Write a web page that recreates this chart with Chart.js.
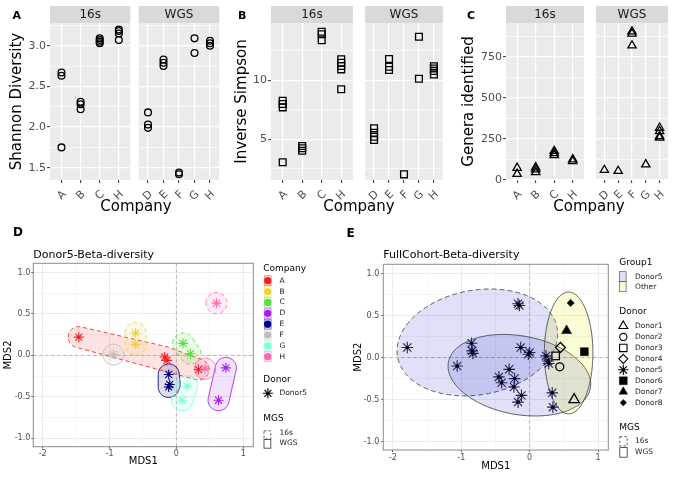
<!DOCTYPE html>
<html><head><meta charset="utf-8">
<script src="https://cdn.jsdelivr.net/npm/chart.js@4.4.1/dist/chart.umd.min.js"></script>
<style>
html,body{margin:0;padding:0;background:#fff;}
body{position:relative;width:680px;height:479px;overflow:hidden;font-family:'DejaVu Sans',sans-serif;}
canvas{position:absolute;}
.t{position:absolute;white-space:nowrap;transform:translate(-50%,-50%);color:#000;font-size:15px;line-height:1;}
.p{position:absolute;white-space:nowrap;font-weight:bold;transform:translate(0,-50%);color:#000;line-height:1;}
</style></head><body>
<canvas id="a1" width="135" height="220" style="left:0px;top:0px"></canvas>
<canvas id="a2" width="90" height="220" style="left:134px;top:0px"></canvas>
<canvas id="b1" width="134" height="220" style="left:225px;top:0px"></canvas>
<canvas id="b2" width="90" height="220" style="left:359px;top:0px"></canvas>
<canvas id="c1" width="140" height="220" style="left:450px;top:0px"></canvas>
<canvas id="c2" width="84" height="220" style="left:590px;top:0px"></canvas>
<canvas id="d" width="340" height="259" style="left:0px;top:220px"></canvas>
<canvas id="e" width="340" height="259" style="left:340px;top:220px"></canvas>
<div class="p" style="left:12.5px;top:15px;font-size:11px">A</div>
<div class="p" style="left:238px;top:15px;font-size:11px">B</div>
<div class="p" style="left:467px;top:15px;font-size:11px">C</div>
<div class="p" style="left:13px;top:232px;font-size:12px">D</div>
<div class="p" style="left:346.5px;top:233px;font-size:12px">E</div>
<div class="t" style="left:136px;top:206px">Company</div>
<div class="t" style="left:359px;top:206px">Company</div>
<div class="t" style="left:589px;top:206px">Company</div>
<script>
// ================= DATA =================
const cats16s = ['A','B','C','H'];
const catsWgs = ['D','E','F','G','H'];

// Panel A: Shannon diversity
const shannon16sCat = ['A','A','A','B','B','B','C','C','C','C','H','H','H','H'];
const shannon16sVal = [2.67,2.63,1.75,2.31,2.28,2.22,3.09,3.07,3.05,3.03,3.20,3.18,3.15,3.07];
const shannonWgsCat = ['D','D','D','E','E','E','F','F','G','G','H','H','H'];
const shannonWgsVal = [2.18,2.03,1.99,2.83,2.79,2.75,1.44,1.42,3.09,2.91,3.06,3.03,3.00];
const shannonTicks = [1.5,2.0,2.5,3.0];
const shannonMinor = [1.25,1.75,2.25,2.75,3.25];
const shannonLimits = [1.349,3.279];

// Panel B: Inverse Simpson
const invSimp16sCat = ['A','A','A','A','B','B','B','C','C','C','H','H','H','H','H'];
const invSimp16sVal = [8.27,7.99,7.71,3.05,4.43,4.24,4.03,14.12,13.9,13.4,11.78,11.49,11.21,10.93,9.24];
const invSimpWgsCat = ['D','D','D','D','E','E','E','F','G','G','H','H','H','H'];
const invSimpWgsVal = [5.93,5.56,5.22,4.94,11.8,11.15,10.87,2.03,13.7,10.14,11.2,11.0,10.8,10.5];
const invSimpTicks = [5,10];
const invSimpMinor = [2.5,7.5,12.5];
const invSimpLimits = [1.55,14.86];

// Panel C: Genera identified
const genera16sCat = ['A','A','B','B','B','C','C','C','H','H'];
const genera16sVal = [72,35,75,62,45,175,162,150,124,113];
const generaWgsCat = ['D','E','F','F','F','G','H','H','H','H'];
const generaWgsVal = [59,53,906,893,820,93,317,296,266,256];
const generaTicks = [0,250,500,750];
const generaMinor = [125,375,625,875];
const generaLimits = [-2,958];

// Panel D: Donor5 beta diversity (MDS)
const companyNames = ['A','B','C','D','E','F','G','H'];
const companyColors = ['#F81E1E','#EAD43C','#52E33C','#A020F0','#000080','#BEBEBE','#7FFFD4','#FF69B4'];
const betaDCompany = ['A','A','A','A','B','B','C','C','D','D','E','E','E','F','G','G','H','H'];
const betaDMgs = ['16s','16s','16s','16s','16s','16s','16s','16s','WGS','WGS','WGS','WGS','WGS','WGS','WGS','WGS','16s','WGS'];
const betaDX = [-1.46,-0.175,-0.14,0.33,-0.61,-0.61,0.10,0.21,0.74,0.63,-0.115,-0.10,-0.115,-0.94,0.16,0.085,0.60,0.43];
const betaDY = [0.22,-0.02,-0.06,-0.17,0.27,0.13,0.145,0.02,-0.15,-0.54,-0.23,-0.35,-0.38,0.01,-0.37,-0.54,0.63,-0.16];

// Panel E: full cohort beta diversity (MDS)
const donorNames = ['Donor1','Donor2','Donor3','Donor4','Donor5','Donor6','Donor7','Donor8'];
const betaEDonor = ['Donor5','Donor5','Donor5','Donor5','Donor5','Donor5','Donor5','Donor5','Donor5','Donor5','Donor5','Donor5','Donor5','Donor5','Donor5','Donor5','Donor5','Donor5','Donor5','Donor5','Donor5','Donor5',
                    'Donor1','Donor2','Donor3','Donor4','Donor6','Donor7','Donor8'];
const betaEX = [-1.79,-0.17,-0.15,-0.85,-0.84,-0.83,-1.06,-0.13,0.00,-0.02,-0.30,-0.45,-0.41,-0.22,-0.23,-0.12,-0.17,0.24,0.27,0.28,0.33,0.34,
                0.65,0.44,0.38,0.45,0.80,0.54,0.60];
const betaEY = [0.12,0.64,0.62,0.17,0.08,0.05,-0.10,0.12,0.06,0.04,-0.14,-0.23,-0.30,-0.25,-0.35,-0.45,-0.53,0.02,-0.04,-0.07,-0.42,-0.59,
                -0.50,-0.11,0.02,0.12,0.07,0.32,0.65];
// stat ellipses (data units): centre, semi-axes, rotation
const ellGroup = ['Donor5','Donor5','Other'];
const ellMgs = ['16s','WGS','WGS'];
const ellCx = [-0.765,-0.15,0.57];
const ellCy = [0.18,-0.21,0.055];
const ellA = [1.18,1.05,0.355];
const ellB = [0.625,0.47,0.725];
const ellAngle = [6.8,-7.4,0];

const mdsXTicks = [-2,-1,0,1];
const mdsXMinor = [-1.5,-0.5,0.5];
const mdsYTicks = [-1.0,-0.5,0.0,0.5,1.0];
const mdsYMinor = [-0.75,-0.25,0.25,0.75];
const mdsXLimits = [-2.14,1.15];
const mdsYLimits = [-1.10,1.11];

// ================= STYLE / HELPERS =================
const FF = "'DejaVu Sans', sans-serif";
Chart.defaults.font.family = FF;
const groupFill = {Donor5:'rgba(0,0,200,0.12)', Other:'rgba(230,230,0,0.16)'};

function hexA(hex,a){const n=parseInt(hex.slice(1),16);return `rgba(${n>>16&255},${n>>8&255},${n&255},${a})`;}
function buildTicks(major,minor,lim){
  return major.map(v=>({value:v,minor:false})).concat(minor.map(v=>({value:v,minor:true})))
    .filter(t=>t.value>=lim[0]-1e-9&&t.value<=lim[1]+1e-9).sort((a,b)=>a.value-b.value);
}
const gw = (maj,min)=>c=>(c.tick&&c.tick.minor)?min:maj;
const tc = col=>c=>(c.tick&&c.tick.minor)?'rgba(0,0,0,0)':col;

const panelPlugin = {
  id:'panelDeco',
  beforeDraw(chart,args,o){
    const {ctx,chartArea:a}=chart;
    ctx.save();
    ctx.fillStyle='#EBEBEB';ctx.fillRect(a.left,a.top,a.right-a.left,a.bottom-a.top);
    ctx.fillStyle='#D9D9D9';ctx.fillRect(a.left,6,a.right-a.left,a.top-6);
    ctx.fillStyle='#1A1A1A';ctx.font="12px "+FF;ctx.textAlign='center';ctx.textBaseline='middle';
    ctx.fillText(o.strip,(a.left+a.right)/2,(6+a.top)/2+0.5);
    ctx.restore();
  }
};

function facet(id,cats,catArr,valArr,cfg){
  const pts=catArr.map((c,i)=>({x:cats.indexOf(c)+1,y:valArr[i]}));
  const yt=buildTicks(cfg.major,cfg.minor,cfg.lim);
  return new Chart(document.getElementById(id),{
    type:'scatter',
    data:{datasets:[{data:pts,pointStyle:cfg.shape,pointRadius:cfg.r,pointHoverRadius:cfg.r,borderColor:'#000',backgroundColor:'rgba(0,0,0,0)',borderWidth:1.3}]},
    plugins:[panelPlugin],
    options:{
      responsive:false,animation:false,events:[],
      layout:{padding:{top:23,left:cfg.padL,right:cfg.padR,bottom:0}},
      plugins:{legend:{display:false},tooltip:{enabled:false},panelDeco:{strip:cfg.strip}},
      scales:{
        x:{type:'linear',min:0.4,max:cats.length+0.6,
          afterBuildTicks:s=>{s.ticks=cats.map((c,i)=>({value:i+1}));},
          afterFit:s=>{s.height=40;s.paddingLeft=0;s.paddingRight=0;},
          ticks:{autoSkip:false,minRotation:45,maxRotation:45,padding:5,labelOffset:3,font:{size:11},color:'#4D4D4D',
                 callback:v=>cats[Math.round(v)-1]},
          grid:{color:'#FFFFFF',lineWidth:1.2,tickColor:'#333333',tickLength:3,tickWidth:1},
          border:{display:false}},
        y:{type:'linear',min:cfg.lim[0],max:cfg.lim[1],
          afterBuildTicks:s=>{s.ticks=yt.map(t=>Object.assign({},t));},
          afterFit:s=>{s.width=cfg.yW;s.paddingTop=0;s.paddingBottom=0;},
          ticks:{display:cfg.showY,padding:1,font:{size:11},color:'#4D4D4D',
                 callback:(v,i,t)=>t[i].minor?'':cfg.fmt(v)},
          grid:{color:'#FFFFFF',lineWidth:gw(1.2,0.6),tickColor:tc('#333333'),tickLength:3,tickWidth:1,drawTicks:cfg.showY},
          border:{display:false},
          title:{display:cfg.showY,text:cfg.title||'',color:'#000',font:{size:15},padding:{top:cfg.tPad||0,bottom:0}}}
      }
    }
  });
}

// ---- panel A
facet('a1',cats16s,shannon16sCat,shannon16sVal,{strip:'16s',shape:'circle',r:3.4,major:shannonTicks,minor:shannonMinor,lim:shannonLimits,
  padL:0,padR:2,yW:50,showY:true,fmt:v=>v.toFixed(1),title:'Shannon Diversity',tPad:8});
facet('a2',catsWgs,shannonWgsCat,shannonWgsVal,{strip:'WGS',shape:'circle',r:3.4,major:shannonTicks,minor:shannonMinor,lim:shannonLimits,
  padL:4,padR:2,yW:0,showY:false,fmt:v=>''});
// ---- panel B
facet('b1',cats16s,invSimp16sCat,invSimp16sVal,{strip:'16s',shape:'rect',r:4.8,major:invSimpTicks,minor:invSimpMinor,lim:invSimpLimits,
  padL:0,padR:2,yW:46,showY:true,fmt:v=>String(v),title:'Inverse Simpson',tPad:8.5});
facet('b2',catsWgs,invSimpWgsCat,invSimpWgsVal,{strip:'WGS',shape:'rect',r:4.8,major:invSimpTicks,minor:invSimpMinor,lim:invSimpLimits,
  padL:3,padR:2,yW:0,showY:false,fmt:v=>''});
// ---- panel C
facet('c1',cats16s,genera16sCat,genera16sVal,{strip:'16s',shape:'triangle',r:4.8,major:generaTicks,minor:generaMinor,lim:generaLimits,
  padL:0,padR:2,yW:56,showY:true,fmt:v=>String(v),title:'Genera identified',tPad:9.8});
facet('c2',catsWgs,generaWgsCat,generaWgsVal,{strip:'WGS',shape:'triangle',r:4.8,major:generaTicks,minor:generaMinor,lim:generaLimits,
  padL:2,padR:2,yW:0,showY:false,fmt:v=>''});

// ================= MDS PANELS =================
function convexHull(P){
  P=P.slice().sort((a,b)=>a[0]-b[0]||a[1]-b[1]);
  const cr=(o,a,b)=>(a[0]-o[0])*(b[1]-o[1])-(a[1]-o[1])*(b[0]-o[0]);
  const lo=[];for(const p of P){while(lo.length>=2&&cr(lo[lo.length-2],lo[lo.length-1],p)<=0)lo.pop();lo.push(p);}
  const up=[];for(let i=P.length-1;i>=0;i--){const p=P[i];while(up.length>=2&&cr(up[up.length-2],up[up.length-1],p)<=0)up.pop();up.push(p);}
  lo.pop();up.pop();return lo.concat(up);
}
function roundedHull(pts,r){
  const ring=[];
  pts.forEach(p=>{for(let k=0;k<48;k++){const a=k*Math.PI*2/48;ring.push([p[0]+r*Math.cos(a),p[1]+r*Math.sin(a)]);}});
  return convexHull(ring);
}
function drawShape(ctx,s,x,y,r,fill,stroke,lw){
  ctx.beginPath();
  if(s==='circle'){ctx.arc(x,y,r,0,Math.PI*2);}
  else if(s==='rect'){ctx.rect(x-r,y-r,2*r,2*r);}
  else if(s==='rectRot'){ctx.moveTo(x,y-r);ctx.lineTo(x+r,y);ctx.lineTo(x,y+r);ctx.lineTo(x-r,y);ctx.closePath();}
  else if(s==='triangle'){ctx.moveTo(x,y-r);ctx.lineTo(x+r*0.866,y+r*0.5);ctx.lineTo(x-r*0.866,y+r*0.5);ctx.closePath();}
  else if(s==='star'){for(let k=0;k<4;k++){const a=k*Math.PI/4;ctx.moveTo(x-r*Math.cos(a),y-r*Math.sin(a));ctx.lineTo(x+r*Math.cos(a),y+r*Math.sin(a));}}
  ctx.setLineDash([]);
  if(fill&&s!=='star'){ctx.fillStyle=fill;ctx.fill();}
  if(stroke){ctx.strokeStyle=stroke;ctx.lineWidth=lw;ctx.stroke();}
}
function txt(ctx,s,x,y,size,col){ctx.font=size+'px '+FF;ctx.fillStyle=col||'#000';ctx.textAlign='left';ctx.textBaseline='middle';ctx.fillText(s,x,y);}

const mdsDeco = {
  id:'mdsDeco',
  beforeDatasetsDraw(chart){
    const {ctx,chartArea:a,scales:{x,y}}=chart;
    ctx.save();ctx.strokeStyle='#A6A6A6';ctx.lineWidth=0.8;ctx.setLineDash([3,3]);
    const x0=x.getPixelForValue(0),y0=y.getPixelForValue(0);
    ctx.beginPath();ctx.moveTo(x0,a.top);ctx.lineTo(x0,a.bottom);ctx.moveTo(a.left,y0);ctx.lineTo(a.right,y0);ctx.stroke();
    ctx.restore();
  },
  afterDraw(chart,args,o){
    const {ctx,chartArea:a}=chart;
    ctx.save();
    ctx.strokeStyle='#8C8C8C';ctx.lineWidth=1;ctx.setLineDash([]);
    ctx.strokeRect(a.left,a.top,a.right-a.left,a.bottom-a.top);
    txt(ctx,o.title,a.left,35,11,'#000');
    o.legend(ctx);
    ctx.restore();
  }
};

function mdsScales(c){
  const xt=buildTicks(mdsXTicks,mdsXMinor,mdsXLimits), yt=buildTicks(mdsYTicks,mdsYMinor,mdsYLimits);
  return {
    x:{type:'linear',min:mdsXLimits[0],max:mdsXLimits[1],
      afterBuildTicks:s=>{s.ticks=xt.map(t=>Object.assign({},t));},
      afterFit:s=>{s.height=c.xH;s.paddingLeft=0;s.paddingRight=0;},
      ticks:{autoSkip:false,maxRotation:0,padding:c.xTP,font:{size:8},color:'#4D4D4D',callback:(v,i,t)=>t[i].minor?'':String(v)},
      grid:{color:'#EBEBEB',lineWidth:gw(1,0.5),tickColor:tc('#333333'),tickLength:2,tickWidth:0.8},
      border:{display:false},
      title:{display:true,text:'MDS1',color:'#000',font:{size:10},padding:{top:0,bottom:c.xTitlePad}}},
    y:{type:'linear',min:mdsYLimits[0],max:mdsYLimits[1],
      afterBuildTicks:s=>{s.ticks=yt.map(t=>Object.assign({},t));},
      afterFit:s=>{s.width=c.yW;s.paddingTop=0;s.paddingBottom=0;},
      ticks:{padding:c.yTP,font:{size:8},color:'#4D4D4D',callback:(v,i,t)=>t[i].minor?'':v.toFixed(1)},
      grid:{color:'#EBEBEB',lineWidth:gw(1,0.5),tickColor:tc('#333333'),tickLength:2,tickWidth:0.8},
      border:{display:false},
      title:{display:true,text:'MDS2',color:'#000',font:{size:10},padding:{top:c.yTitlePad,bottom:0}}}
  };
}

// ---- panel D
const hullPlugin = {
  id:'hulls',
  beforeDatasetsDraw(chart){
    const {ctx,scales:{x,y}}=chart;
    ctx.save();
    companyNames.forEach((c,ci)=>{['16s','WGS'].forEach(m=>{
      const pts=[];
      betaDCompany.forEach((cc,i)=>{if(cc===c&&betaDMgs[i]===m)pts.push([x.getPixelForValue(betaDX[i]),y.getPixelForValue(betaDY[i])]);});
      if(!pts.length)return;
      const h=roundedHull(pts,10.5);
      ctx.beginPath();h.forEach((q,k)=>k?ctx.lineTo(q[0],q[1]):ctx.moveTo(q[0],q[1]));ctx.closePath();
      ctx.fillStyle=hexA(companyColors[ci],0.13);ctx.fill();
      ctx.setLineDash(m==='16s'?[4,3]:[]);ctx.strokeStyle=hexA(companyColors[ci],0.85);ctx.lineWidth=1;ctx.stroke();
    });});
    ctx.restore();
  }
};
const colorOf = c=>companyColors[companyNames.indexOf(c)];
const dPts = betaDX.map((v,i)=>({x:v,y:betaDY[i]}));
new Chart(document.getElementById('d'),{
  type:'scatter',
  data:{datasets:[
    {data:dPts,pointStyle:'circle',pointRadius:1.3,borderWidth:0,backgroundColor:betaDCompany.map(colorOf),order:0},
    {data:dPts,pointStyle:'star',pointRadius:5,borderWidth:1.1,borderColor:betaDCompany.map(colorOf),backgroundColor:'rgba(0,0,0,0)',order:1}
  ]},
  plugins:[mdsDeco,hullPlugin],
  options:{
    responsive:false,animation:false,events:[],
    layout:{padding:{top:43.3,left:0,right:86.7,bottom:0}},
    plugins:{legend:{display:false},tooltip:{enabled:false},
      mdsDeco:{title:'Donor5-Beta-diversity',legend:ctx=>{
        txt(ctx,'Company',263.3,48.3,9);
        companyNames.forEach((c,i)=>{
          const yy=60.7+10.86*i;
          ctx.fillStyle=hexA(companyColors[i],0.15);ctx.fillRect(264.3,yy-5,6.8,10);
          ctx.strokeStyle=hexA(companyColors[i],0.6);ctx.lineWidth=0.7;ctx.setLineDash([]);ctx.strokeRect(264.3,yy-5,6.8,10);
          drawShape(ctx,'circle',267.7,yy,3.6,companyColors[i],null,0);
          txt(ctx,c,279.5,yy,7.5,'#1A1A1A');
        });
        txt(ctx,'Donor',263.3,160,9);
        drawShape(ctx,'star',267.9,173.3,5,null,'#000',1.1);drawShape(ctx,'circle',267.9,173.3,1.4,'#000',null,0);
        txt(ctx,'Donor5',279.5,173.3,7.5,'#1A1A1A');
        txt(ctx,'MGS',263.3,198.3,9);
        ctx.strokeStyle='#333';ctx.lineWidth=0.8;ctx.setLineDash([2.5,2]);ctx.strokeRect(264,210.8,6.8,8.2);
        ctx.setLineDash([]);ctx.strokeRect(264,219.4,6.8,8.8);
        txt(ctx,'16s',279.5,213.5,7.5,'#1A1A1A');txt(ctx,'WGS',279.5,223.5,7.5,'#1A1A1A');
      }}},
    scales:mdsScales({xH:32.3,xTP:0,xTitlePad:11.3,yW:33.3,yTP:1,yTitlePad:2})
  }
});

// ---- panel E
const ellipsePlugin = {
  id:'ellipses',
  beforeDatasetsDraw(chart){
    const {ctx,chartArea:a,scales:{x,y}}=chart;
    ctx.save();ctx.beginPath();ctx.rect(a.left,a.top,a.right-a.left,a.bottom-a.top);ctx.clip();
    for(let i=0;i<ellCx.length;i++){
      const th=ellAngle[i]*Math.PI/180;
      ctx.beginPath();
      for(let k=0;k<=160;k++){
        const t=k/160*2*Math.PI,dx=ellA[i]*Math.cos(t),dy=ellB[i]*Math.sin(t);
        const X=x.getPixelForValue(ellCx[i]+dx*Math.cos(th)-dy*Math.sin(th));
        const Y=y.getPixelForValue(ellCy[i]+dx*Math.sin(th)+dy*Math.cos(th));
        k?ctx.lineTo(X,Y):ctx.moveTo(X,Y);
      }
      ctx.closePath();ctx.fillStyle=groupFill[ellGroup[i]];ctx.fill();
      ctx.setLineDash(ellMgs[i]==='16s'?[5,3]:[]);ctx.strokeStyle='#3C3C3C';ctx.lineWidth=0.8;ctx.stroke();
    }
    ctx.restore();
  }
};
const donorShape = {Donor1:['triangle',6,false],Donor2:['circle',4,false],Donor3:['rect',5.3,false],Donor4:['rectRot',5,false],
                    Donor5:['star',5.8,false],Donor6:['rect',5.6,true],Donor7:['triangle',5.8,true],Donor8:['rectRot',3.6,true]};
const eSets = [];
donorNames.forEach(dn=>{
  const pts=[];betaEDonor.forEach((d,i)=>{if(d===dn)pts.push({x:betaEX[i],y:betaEY[i]});});
  const [s,r,f]=donorShape[dn];
  if(dn==='Donor5'){
    eSets.push({data:pts,pointStyle:'circle',pointRadius:1.7,borderWidth:0,backgroundColor:'#000',order:0});
    eSets.push({data:pts,pointStyle:'star',pointRadius:r,borderWidth:1.1,borderColor:'#22225E',backgroundColor:'rgba(0,0,0,0)',order:1});
  } else {
    eSets.push({data:pts,pointStyle:s,pointRadius:r,borderWidth:f?0.5:1.3,borderColor:'#000',backgroundColor:f?'#000':'rgba(0,0,0,0)',order:2});
  }
});
new Chart(document.getElementById('e'),{
  type:'scatter',
  data:{datasets:eSets},
  plugins:[mdsDeco,ellipsePlugin],
  options:{
    responsive:false,animation:false,events:[],
    layout:{padding:{top:44.3,left:0,right:71.7,bottom:0}},
    plugins:{legend:{display:false},tooltip:{enabled:false},
      mdsDeco:{title:'FullCohort-Beta-diversity',legend:ctx=>{
        txt(ctx,'Group1',279.3,42.7,9);
        ctx.setLineDash([]);
        [['Donor5',51.7],['Other',61.7]].forEach(([g,yy])=>{
          ctx.fillStyle='#fff';ctx.fillRect(279.3,yy,6.8,10);
          ctx.fillStyle=groupFill[g];ctx.fillRect(279.3,yy,6.8,10);
          ctx.strokeStyle='#555';ctx.lineWidth=0.7;ctx.strokeRect(279.3,yy,6.8,10);
          txt(ctx,g,295,yy+5,7.5,'#1A1A1A');
        });
        txt(ctx,'Donor',279.3,91.7,9);
        donorNames.forEach((dn,i)=>{
          const yy=106+10.95*i;const [s,r,f]=donorShape[dn];
          const rr = s==='rect'?r*0.7:(s==='triangle'?r*0.85:r*0.9);
          drawShape(ctx,s,283.3,yy,rr,f?'#000':null,'#000',f?0.5:1.1);
          if(dn==='Donor5')drawShape(ctx,'circle',283.3,yy,1.4,'#000',null,0);
          txt(ctx,dn,295,yy,7.5,'#1A1A1A');
        });
        txt(ctx,'MGS',279.3,207.3,9);
        ctx.strokeStyle='#333';ctx.lineWidth=0.8;ctx.setLineDash([2.5,2]);ctx.strokeRect(279.8,216.7,7.4,9.3);
        ctx.setLineDash([]);ctx.strokeRect(279.8,227.6,7.4,9.6);
        txt(ctx,'16s',295,221.2,7.5,'#1A1A1A');txt(ctx,'WGS',295,232.5,7.5,'#1A1A1A');
      }}},
    scales:mdsScales({xH:29,xTP:1,xTitlePad:6.3,yW:43.3,yTP:2,yTitlePad:12.3})
  }
});
</script>
</body></html>
